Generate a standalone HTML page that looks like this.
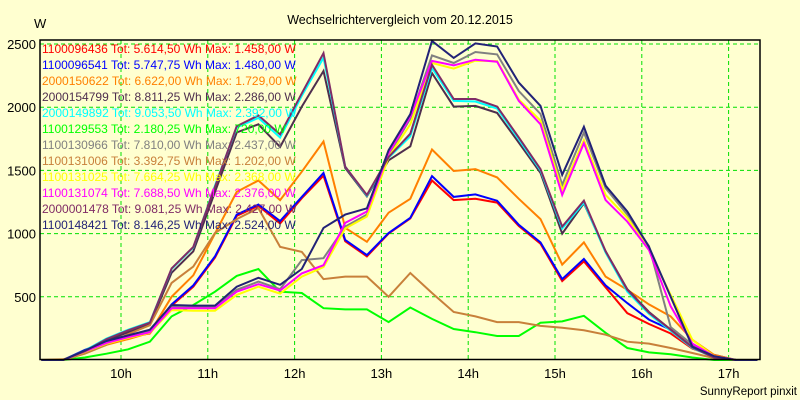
<!DOCTYPE html>
<html><head><meta charset="utf-8">
<style>
html,body{margin:0;padding:0;background:#ffffd0;}
svg{display:block;font-family:"Liberation Sans",Arial,sans-serif;}
</style></head>
<body>
<svg id="chart" width="800" height="400" viewBox="0 0 800 400" xmlns="http://www.w3.org/2000/svg">
<rect x="0" y="0" width="800" height="400" fill="#ffffd0"/>
<text x="400" y="24" font-size="12.5" text-anchor="middle" fill="#000">Wechselrichtervergleich vom 20.12.2015</text>
<text x="34" y="28" font-size="13" fill="#000">W</text>
<text x="797" y="395" font-size="11.5" text-anchor="end" fill="#000">SunnyReport pinxit</text>
<g id="grid"></g>
<g id="axes"></g>
<g id="series"></g>
<g id="legend"></g>
<rect x="40" y="40" width="720" height="319.5" fill="none" stroke="#000" stroke-width="1.5"/>
</svg>
<script>
const yTicks = [500, 1000, 1500, 2000, 2500];
const xTicks = [10, 11, 12, 13, 14, 15, 16, 17];
const xTickLabels = ["10h", "11h", "12h", "13h", "14h", "15h", "16h", "17h"];
const startHour = 9 + 5/60;
const stepHour = 0.25;
const seriesNames = ["1100096436","1100096541","2000150622","2000154799","2000149892","1100129553","1100130966","1100131006","1100131025","1100131074","2000001478","1100148421"];
const seriesLabels = [
"1100096436 Tot: 5.614,50 Wh Max: 1.458,00 W",
"1100096541 Tot: 5.747,75 Wh Max: 1.480,00 W",
"2000150622 Tot: 6.622,00 Wh Max: 1.729,00 W",
"2000154799 Tot: 8.811,25 Wh Max: 2.286,00 W",
"2000149892 Tot: 9.053,50 Wh Max: 2.392,00 W",
"1100129553 Tot: 2.180,25 Wh Max: 720,00 W",
"1100130966 Tot: 7.810,00 Wh Max: 2.437,00 W",
"1100131006 Tot: 3.392,75 Wh Max: 1.202,00 W",
"1100131025 Tot: 7.664,25 Wh Max: 2.368,00 W",
"1100131074 Tot: 7.688,50 Wh Max: 2.376,00 W",
"2000001478 Tot: 9.081,25 Wh Max: 2.427,00 W",
"1100148421 Tot: 8.146,25 Wh Max: 2.524,00 W"];
const seriesColors = ["#ff0000","#0000ff","#ff8000","#4e2e4e","#00ffff","#00ff00","#808080","#c8803a","#ffff00","#ff00ff","#802c66","#222277"];
const s1100096436 = [0,0,75,140,180,210,430,580,810,1140,1220,1080,1280,1458,940,820,1000,1120,1420,1265,1275,1245,1060,920,625,780,575,370,285,210,90,30,0,0];
const s1100096541 = [0,0,80,145,190,225,440,590,820,1150,1230,1100,1290,1480,950,830,1005,1125,1455,1290,1310,1260,1070,930,640,800,590,450,320,240,100,40,0,0];
const s2000150622 = [0,5,60,120,165,215,500,670,1000,1330,1420,1265,1490,1729,1045,935,1165,1275,1665,1495,1510,1445,1275,1115,755,930,660,555,440,345,160,40,0,0];
const s2000154799 = [0,0,65,155,220,280,690,860,1330,1800,1865,1685,2005,2286,1520,1295,1580,1690,2270,2005,2010,1955,1720,1480,1000,1240,860,560,380,240,100,20,0,0];
const s2000149892 = [0,0,75,170,240,300,720,890,1380,1840,1915,1760,2090,2392,1530,1300,1600,1770,2310,2050,2045,1990,1745,1500,1040,1245,850,540,365,230,95,20,0,0];
const s1100129553 = [0,0,20,50,85,145,345,435,540,665,720,540,530,410,400,400,300,415,325,245,220,190,190,295,305,350,215,95,60,45,20,0,0,0];
const s1100130966 = [0,0,70,140,185,230,420,415,415,555,620,560,790,805,1055,1150,1620,1910,2410,2350,2437,2418,2128,1946,1385,1800,1360,1150,900,260,120,25,0,0];
const s1100131006 = [0,0,50,120,205,275,610,740,1005,1115,1202,895,855,640,660,660,500,688,530,380,345,300,300,270,255,235,200,145,130,95,55,15,0,0];
const s1100131025 = [0,0,65,130,175,215,395,390,390,515,580,525,660,735,1040,1135,1605,1865,2350,2305,2368,2365,2060,1895,1345,1740,1305,1125,870,515,160,30,0,0];
const s1100131074 = [0,0,68,135,180,220,410,410,410,540,600,550,685,750,1085,1175,1635,1925,2366,2331,2376,2360,2050,1865,1305,1715,1265,1095,870,425,130,30,0,0];
const s2000001478 = [0,0,70,165,235,295,725,895,1370,1850,1935,1785,2110,2427,1530,1305,1605,1790,2335,2065,2065,2005,1760,1510,1055,1260,860,555,375,240,100,20,0,0];
const s1100148421 = [0,0,75,150,195,240,435,430,430,580,650,595,720,1045,1150,1200,1660,1945,2524,2390,2505,2480,2195,2010,1465,1845,1380,1175,895,500,105,30,0,0];
const seriesValues = [s1100096436,s1100096541,s2000150622,s2000154799,s2000149892,s1100129553,s1100130966,s1100131006,s1100131025,s1100131074,s2000001478,s1100148421];

const NS = "http://www.w3.org/2000/svg";
const X0 = 40, X1 = 760, Y0 = 360, YTOP = 44;
function xScale(h){ return 121 + (h - 10) * 86.8; }
function yScale(v){ return Y0 - v * (Y0 - YTOP) / 2500; }
function mk(tag, attrs, parent){ const e = document.createElementNS(NS, tag); for (const k in attrs) e.setAttribute(k, attrs[k]); parent.appendChild(e); return e; }

const grid = document.getElementById("grid");
const axes = document.getElementById("axes");
yTicks.forEach(v => {
  const y = yScale(v);
  const l = mk("line", {x1:X0, x2:X1, y1:y, y2:y, stroke:"#00e000", "stroke-width":1, "stroke-dasharray":"4,3"}, grid);
  
  
  const t = mk("text", {x:36, y:y+5, "font-size":13, "text-anchor":"end", fill:"#000"}, axes);
  t.textContent = String(v);
  
  
});
xTicks.forEach((h, i) => {
  const x = xScale(h);
  const l = mk("line", {x1:x, x2:x, y1:40, y2:Y0, stroke:"#00e000", "stroke-width":1, "stroke-dasharray":"4,3"}, grid);
  
  
  const t = mk("text", {x:x, y:378, "font-size":13, "text-anchor":"middle", fill:"#000"}, axes);
  t.textContent = xTickLabels[i];
  
  
});

const sg = document.getElementById("series");
seriesValues.forEach((vals, si) => {
  const pts = vals.map((v, k) => xScale(startHour + k * stepHour).toFixed(1) + "," + yScale(v).toFixed(1)).join(" ");
  const pl = mk("polyline", {points:pts, fill:"none", stroke:seriesColors[si], "stroke-width":2, "stroke-linejoin":"miter"}, sg);
  
  
});

const lg = document.getElementById("legend");
seriesLabels.forEach((lab, i) => {
  const t = mk("text", {x:42, y:53 + i * 16, "font-size":12, fill:seriesColors[i]}, lg);
  t.textContent = lab;
  
  
});
</script>
</body></html>
